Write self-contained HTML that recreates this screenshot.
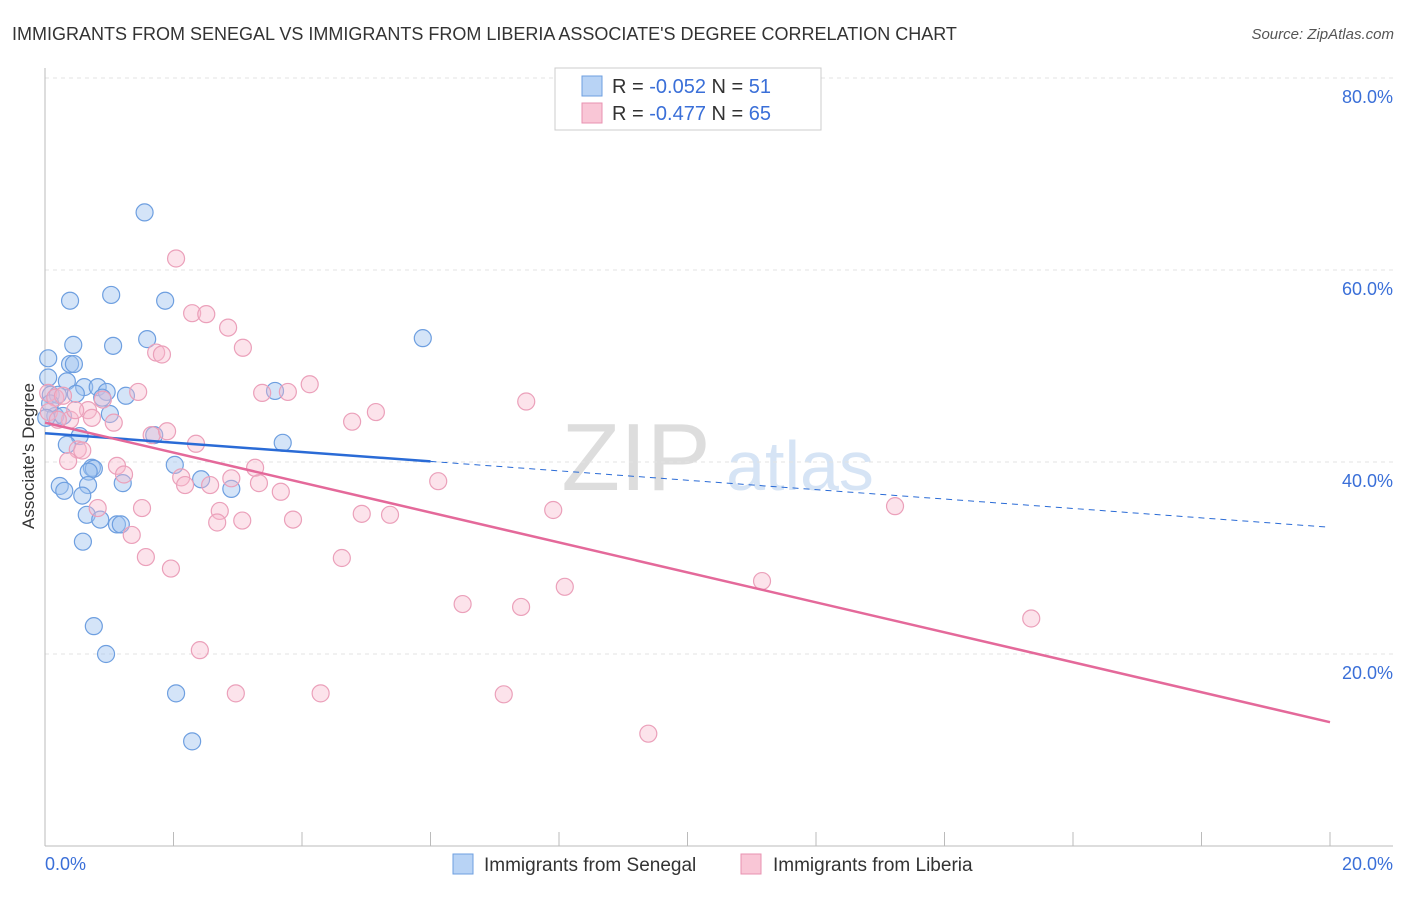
<!DOCTYPE html>
<html><head><meta charset="utf-8"><style>
body{margin:0;background:#fff;font-family:"Liberation Sans",sans-serif;}
svg text{font-family:"Liberation Sans",sans-serif;}
</style></head><body>
<svg id="c" width="1406" height="892">
<text x="12" y="40" font-size="18" fill="#333">IMMIGRANTS FROM SENEGAL VS IMMIGRANTS FROM LIBERIA ASSOCIATE'S DEGREE CORRELATION CHART</text>
<text x="1394" y="39" font-size="15" fill="#555" text-anchor="end" font-style="italic">Source: ZipAtlas.com</text>
<text x="636" y="490" font-size="96" fill="#ddd" font-family="Liberation Serif" text-anchor="middle">ZIP</text>
<text x="800" y="490" font-size="70" fill="#d6e4f5" text-anchor="middle">atlas</text>
<g id="grid"></g><g id="axes"></g><g id="pts"></g><g id="trend"></g>
<text x="34" y="456" font-size="17" fill="#333" text-anchor="middle" transform="rotate(-90 34 456)">Associate's Degree</text>
<g>
<rect x="555" y="68" width="266" height="62" fill="#fff" stroke="#ccc"/>
<rect x="582" y="76" width="20" height="20" fill="#b8d3f5" stroke="#6e9fe0"/>
<rect x="582" y="103" width="20" height="20" fill="#f9c6d6" stroke="#e892b0"/>
<text x="612" y="93" font-size="20" fill="#333">R = <tspan fill="#3a6fd8">-0.052</tspan>   N = <tspan fill="#3a6fd8"> 51</tspan></text>
<text x="612" y="120" font-size="20" fill="#333">R = <tspan fill="#3a6fd8">-0.477</tspan>   N = <tspan fill="#3a6fd8">65</tspan></text>
</g>
<g>
<rect x="453" y="854" width="20" height="20" fill="#b8d3f5" stroke="#6e9fe0"/>
<text x="484" y="871" font-size="19" fill="#333">Immigrants from Senegal</text>
<rect x="741" y="854" width="20" height="20" fill="#f9c6d6" stroke="#e892b0"/>
<text x="773" y="871" font-size="19" fill="#333">Immigrants from Liberia</text>
</g>
</svg>
<script>
const yTicks=[20,40,60,80];
const xTickLabels=["0.0%","20.0%"];
const blueX=[1.55,0.39,1.03,1.87,0.44,1.06,1.59,0.05,0.39,0.45,5.88,0.05,0.34,0.61,0.82,0.96,0.09,0.2,0.48,1.26,0.89,1.01,0.16,0.28,3.58,1.7,0.54,0.34,3.7,0.73,0.76,0.68,2.02,2.43,1.21,0.23,0.67,0.3,2.9,0.58,0.65,0.86,1.12,1.18,0.59,0.76,0.95,2.04,2.29,0.08,0.02];
const blueY=[66.0,56.8,57.4,56.8,52.2,52.1,52.8,50.8,50.2,50.2,52.9,48.8,48.4,47.8,47.8,47.3,47.0,47.0,47.1,46.9,46.7,45.0,44.8,44.8,47.4,42.8,42.7,41.8,42.0,39.4,39.3,39.0,39.7,38.2,37.8,37.5,37.6,37.0,37.2,36.5,34.5,34.0,33.5,33.5,31.7,22.9,20.0,15.9,10.9,46.1,44.6];
const pinkX=[2.04,2.29,2.51,2.85,3.08,1.73,1.82,4.12,3.38,3.78,5.15,7.49,4.78,1.45,0.05,0.16,0.28,0.06,0.67,0.9,0.39,1.07,0.73,1.66,1.9,2.35,0.51,0.58,0.36,1.12,1.23,2.12,2.18,2.57,2.9,3.27,3.33,3.67,6.12,1.51,0.82,2.72,2.68,3.07,3.86,4.93,5.37,7.91,13.23,1.35,1.57,1.96,4.62,8.09,11.16,6.5,7.41,15.35,2.41,2.97,4.29,7.14,9.39,0.2,0.47];
const pinkY=[61.2,55.5,55.4,54.0,51.9,51.4,51.2,48.1,47.2,47.3,45.2,46.3,44.2,47.3,47.2,46.7,46.9,45.2,45.4,46.5,44.4,44.1,44.6,42.8,43.2,41.9,41.3,41.2,40.1,39.6,38.7,38.4,37.6,37.6,38.3,39.4,37.8,36.9,38.0,35.2,35.2,34.9,33.7,33.9,34.0,34.6,34.5,35.0,35.4,32.4,30.1,28.9,30.0,27.0,27.6,25.2,24.9,23.7,20.4,15.9,15.9,15.8,11.7,44.4,45.4];
const blueTrend=[43.0,33.2], pinkTrend=[44.1,12.9];
const X0=45,X1=1330,Y0=846,PY=9.6;
const sx=v=>X0+(X1-X0)*v/20, sy=v=>Y0-v*PY;
const NS="http://www.w3.org/2000/svg";
function mk(p,t,a){const e=document.createElementNS(NS,t);for(const k in a)e.setAttribute(k,a[k]);document.getElementById(p).appendChild(e);return e;}
yTicks.forEach((t,i)=>{
 const g=mk('grid','line',{x1:45,x2:1393,y1:sy(t),y2:sy(t),stroke:'#e3e3e3','stroke-dasharray':'4,4'});
 
 
 const l=mk('grid','text',{x:1393,y:sy(t)+25,'font-size':18,fill:'#3a6fd8','text-anchor':'end'});
 l.textContent=t.toFixed(1)+'%';
 
 
});
let a=mk('axes','line',{x1:45,x2:45,y1:68,y2:846,stroke:'#bbb'});


a=mk('axes','line',{x1:45,x2:1393,y1:846,y2:846,stroke:'#bbb'});


for(let i=1;i<=10;i++){const t=mk('axes','line',{x1:sx(i*2),x2:sx(i*2),y1:832,y2:846,stroke:'#bbb'});
 
 }
[[0,'start',45],[1,'end',1393]].forEach(([i,an,x])=>{const t=mk('axes','text',{x:x,y:870,'font-size':18,fill:'#3a6fd8','text-anchor':an});t.textContent=xTickLabels[i];
 
 });
blueX.forEach((v,i)=>{const c=mk('pts','circle',{cx:sx(v),cy:sy(blueY[i]),r:8.5,fill:'rgba(160,196,240,0.45)',stroke:'#6e9fe0','stroke-width':1.2});
 
 });
pinkX.forEach((v,i)=>{const c=mk('pts','circle',{cx:sx(v),cy:sy(pinkY[i]),r:8.5,fill:'rgba(248,186,206,0.4)',stroke:'#eba0ba','stroke-width':1.2});
 
 });
const bAt=x=>blueTrend[0]+(blueTrend[1]-blueTrend[0])*x/20;
let t=mk('trend','line',{x1:sx(0),y1:sy(bAt(0)),x2:sx(6),y2:sy(bAt(6)),stroke:'#2a6bd6','stroke-width':2.5});


t=mk('trend','line',{x1:sx(6),y1:sy(bAt(6)),x2:sx(20),y2:sy(bAt(20)),stroke:'#2a6bd6','stroke-width':1,'stroke-dasharray':'6,5'});


t=mk('trend','line',{x1:sx(0),y1:sy(pinkTrend[0]),x2:sx(20),y2:sy(pinkTrend[1]),stroke:'#e4699a','stroke-width':2.5});


</script>
</body></html>
